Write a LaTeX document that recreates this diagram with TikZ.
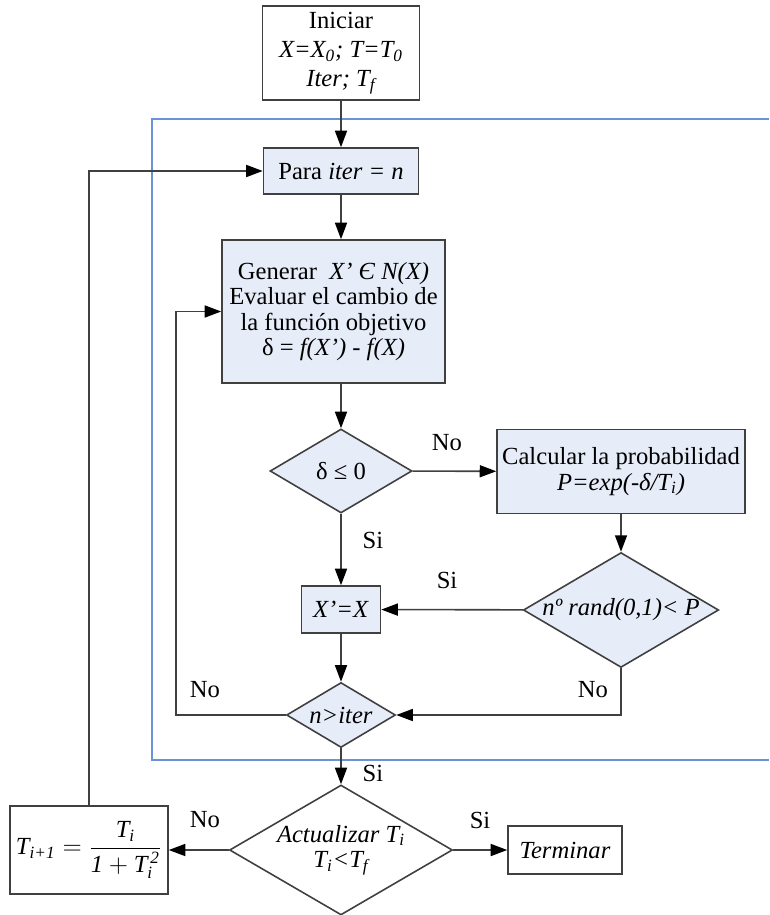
\documentclass[tikz,border=0pt]{standalone}
\usepackage{amsmath}
\usepackage{fontspec}
\setmainfont{Liberation Serif}
\usetikzlibrary{arrows.meta}
\usetikzlibrary{shapes.geometric}
\definecolor{boxfill}{RGB}{230,237,248}
\definecolor{boxline}{RGB}{64,64,64}
\definecolor{frameblue}{RGB}{105,148,212}

\begin{document}
\begin{tikzpicture}[x=0.02cm,y=-0.02cm,font=\fontsize{14}{14.5}\selectfont]
\useasboundingbox (0,0) rectangle (769,915);
% frame of the inner loop
\draw[frameblue,line width=0.7pt] (769,119) -| (152,760) -- (769,760);
\begin{scope}[every node/.style={draw=boxline,line width=0.9pt,align=center,inner sep=2pt},
              blue_box/.style={fill=boxfill},
              white_box/.style={fill=white},
              decision/.style={diamond,aspect=1.7,inner sep=0pt,fill=boxfill}]
    \node[white_box,minimum width=3.14cm,minimum height=1.88cm] (init) at (341,53)
        {Iniciar\\[2pt] \textit{X=X\textsubscript{0}; T=T\textsubscript{0}}\\[2pt] \textit{Iter; T\textsubscript{f}}};
    \node[blue_box,minimum width=3.1cm,minimum height=0.92cm] (para) at (341,171) {Para \textit{iter = n}};
    \node[blue_box,inner sep=1pt,minimum width=4.46cm,minimum height=2.86cm] (gen) at (333.5,311.5)
        {Generar~ \textit{X’ Є N(X)}\\Evaluar el cambio de\\la función objetivo\\δ = \textit{f(X’) - f(X)}};
    \node[decision,minimum width=2.84cm,minimum height=1.68cm] (delta) at (341,471) {δ ≤ 0};
    \node[blue_box,minimum width=4.96cm,minimum height=1.68cm] (calc) at (621,471.5)
        {Calcular la probabilidad\\\textit{P=exp(-δ/T\textsubscript{i})}};
    \node[decision,minimum width=3.72cm,minimum height=2.2cm] (rand) at (621,610) {\textit{nº rand(0,1)< P}};
    \node[blue_box,minimum width=1.58cm,minimum height=0.94cm] (xeq) at (341,609.5) {\textit{X’=X}};
    \node[decision,minimum width=2.18cm,minimum height=1.3cm] (niter) at (341,715) {\textit{n>iter}};
    \node[decision,fill=white,minimum width=4.46cm,minimum height=2.6cm] (act) at (341,850)
        {\textit{Actualizar T\textsubscript{i}}\\\textit{T\textsubscript{i}<T\textsubscript{f}}};
    \node[white_box,minimum width=2.28cm,minimum height=0.96cm] (term) at (565,850) {\textit{Terminar}};
    \node[white_box,minimum width=3.16cm,minimum height=1.76cm] (tnext) at (89,850)
        {$\textit{T}_{\textit{i+1}} = \dfrac{\textit{T}_{\textit{i}}}{\textit{1}+\textit{T}_{\textit{i}}^{\,\textit{2}}}$};
\end{scope}
\coordinate (loopL) at (176,715);
\begin{scope}[>={Triangle[black,length=3.3mm,width=2.4mm]},
              every node/.style={inner sep=1pt},
              flow_edge/.style={draw=boxline,line width=0.9pt}]
    \path [->] (init) edge [flow_edge] (para);
    \path [->] (para) edge [flow_edge] (para |- gen.north);
    \path [->] (para |- gen.south) edge [flow_edge] (delta);
    \path [->] (delta) edge [flow_edge] (calc);
    \path [->] (delta) edge [flow_edge] (xeq);
    \path [->] (calc) edge [flow_edge] (rand);
    \path [->] (rand) edge [flow_edge] (xeq);
    \path [->] (xeq) edge [flow_edge] (niter);
    \path [->] (niter) edge [flow_edge] (act);
    \path [->] (act) edge [flow_edge] (tnext);
    \path [->] (act) edge [flow_edge] (term);
    \draw [->,flow_edge] (rand.south) |- (niter.east);
    \draw [->,flow_edge] (niter.west) -- (loopL) |- (gen.west);
    \draw [->,flow_edge] (tnext.north) |- (para.west);
    % branch labels
    \node (lbl_dno) at (447,443) {No};
    \node (lbl_dsi) at (373,540) {Si};
    \node (lbl_rsi) at (447,580) {Si};
    \node (lbl_nno) at (205,690) {No};
    \node (lbl_rno) at (593,690) {No};
    \node (lbl_nsi) at (373,773) {Si};
    \node (lbl_ano) at (205,820) {No};
    \node (lbl_asi) at (480,820) {Si};
\end{scope}
\end{tikzpicture}
\end{document}
